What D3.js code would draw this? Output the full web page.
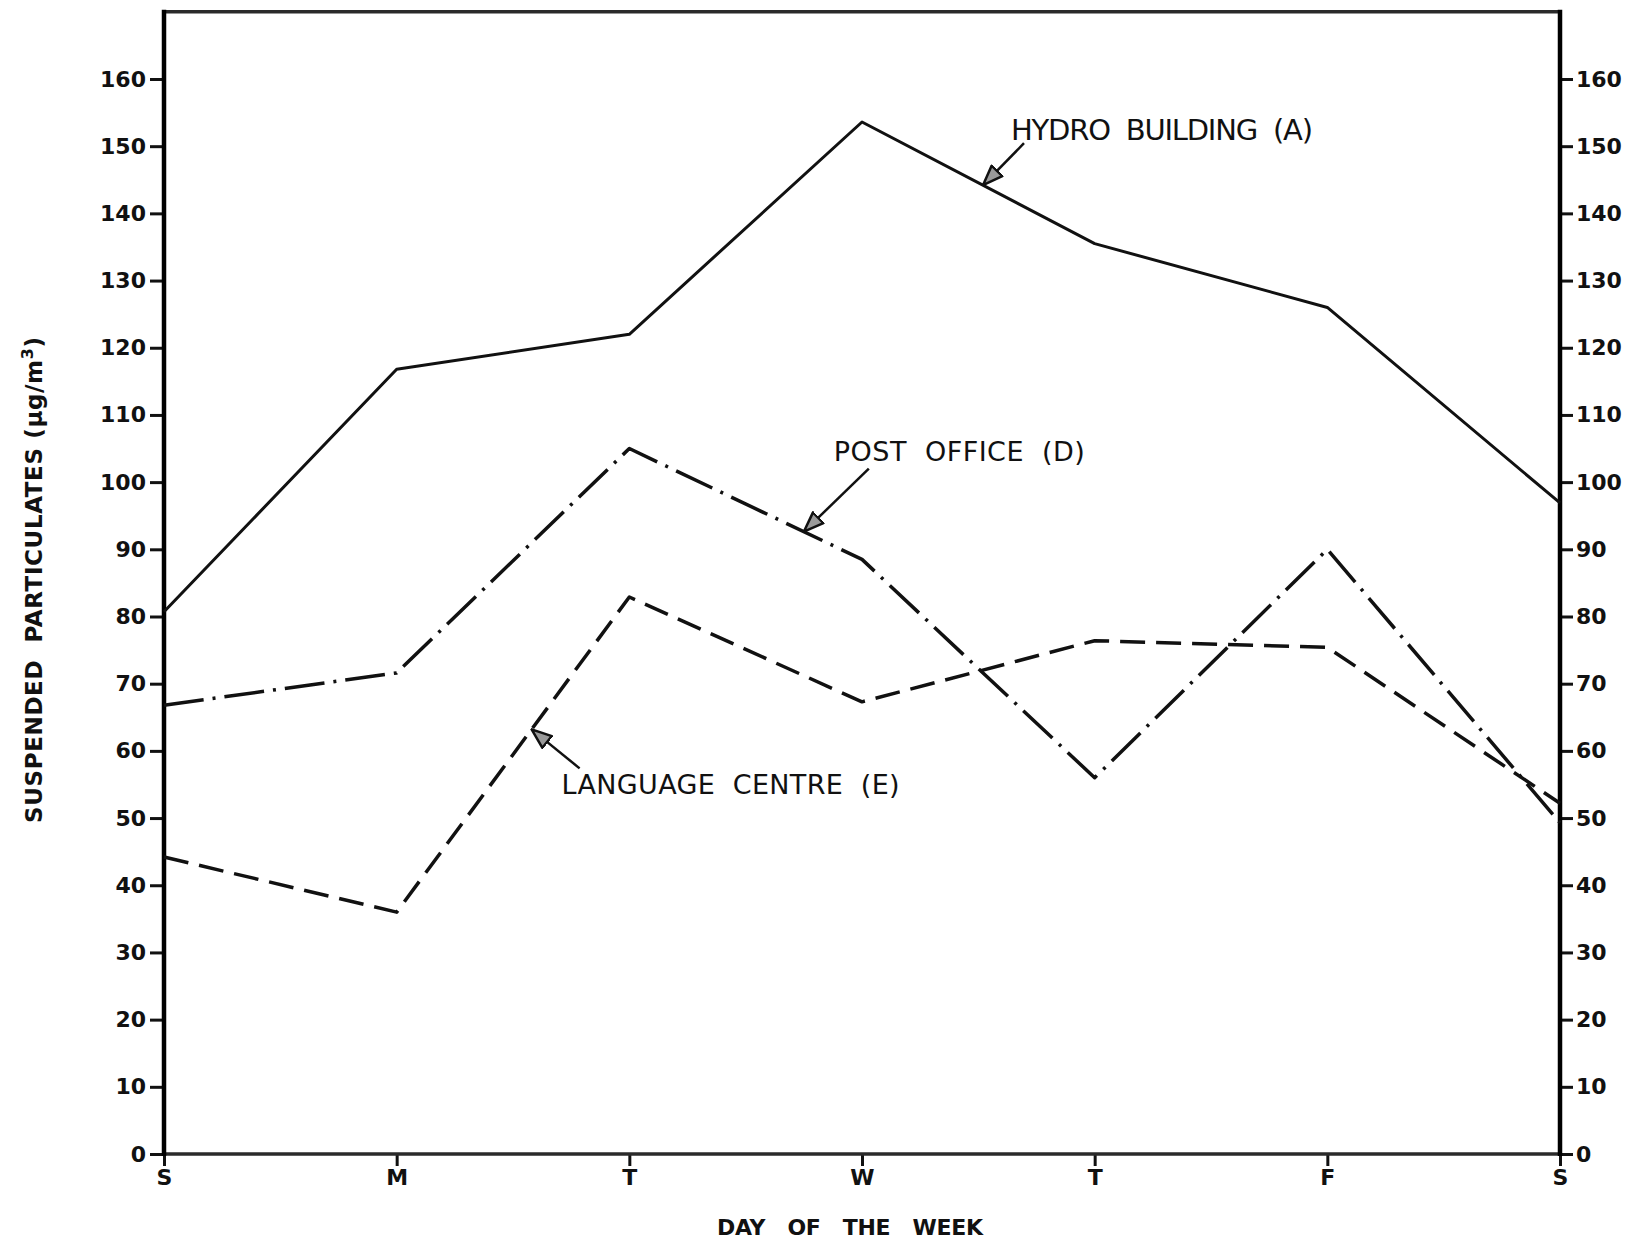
<!DOCTYPE html>
<html>
<head>
<meta charset="utf-8">
<script src="https://cdn.jsdelivr.net/npm/d3@7/dist/d3.min.js"></script>
<style>
  html, body { margin: 0; padding: 0; background: #fff; }
  svg text { font-family: "DejaVu Sans", "Liberation Sans", sans-serif; fill: #111; }
  .tick text { font-weight: bold; }
</style>
</head>
<body>
<svg id="chart" width="1628" height="1242"></svg>
<script>
// Days of the week (Sunday to Saturday)
const days = ["S", "M", "T", "W", "T", "F", "S"];

// Suspended particulates, µg/m³, per station
const hydroBuilding  = [80.7, 116.8, 122.0, 153.6, 135.5, 126.0, 96.9];
const postOffice     = [66.8, 71.6, 105.0, 88.5, 56.0, 90.0, 49.3];
const languageCentre = [44.2, 36.0, 82.9, 67.3, 76.4, 75.4, 52.2];

const yTickValues = [0, 10, 20, 30, 40, 50, 60, 70, 80, 90, 100, 110, 120, 130, 140, 150, 160];

const seriesLabels = ["HYDRO  BUILDING  (A)", "POST  OFFICE  (D)", "LANGUAGE  CENTRE  (E)"];

const svg = d3.select("#chart");
const plotLeft = 164, plotRight = 1560, plotBottom = 1154;
const unit = (1154 - 79) / 160;
const yMax = 170;

const x = d3.scaleLinear().domain([0, days.length - 1]).range([plotLeft, plotRight]);
const y = d3.scaleLinear().domain([0, yMax]).range([plotBottom, plotBottom - yMax * unit]);
const plotTop = y(yMax);

// Axes with outward ticks
const axisL = svg.append("g").attr("transform", `translate(${plotLeft},0)`)
  .call(d3.axisLeft(y).tickValues(yTickValues).tickSize(14).tickPadding(4).tickFormat(d3.format("d")));
const axisR = svg.append("g").attr("transform", `translate(${plotRight},0)`)
  .call(d3.axisRight(y).tickValues(yTickValues).tickSize(13).tickPadding(3).tickFormat(d3.format("d")));
const axisB = svg.append("g").attr("transform", `translate(0,${plotBottom})`)
  .call(d3.axisBottom(x).tickValues(d3.range(days.length)).tickSize(12).tickPadding(3).tickFormat(i => days[i]));

[axisL, axisR, axisB].forEach(g => {
  g.select(".domain").remove();
  g.selectAll(".tick line").attr("stroke", "#111").attr("stroke-width", 3);
  g.selectAll(".tick text").attr("font-size", 22).attr("fill", "#111");
});

// Frame
svg.append("line").attr("x1", plotLeft).attr("x2", plotRight).attr("y1", plotTop).attr("y2", plotTop)
  .attr("stroke", "#2a2a2a").attr("stroke-width", 3.5);
svg.append("line").attr("x1", plotLeft).attr("x2", plotRight).attr("y1", plotBottom).attr("y2", plotBottom)
  .attr("stroke", "#2a2a2a").attr("stroke-width", 3.5);
svg.append("line").attr("x1", plotLeft).attr("x2", plotLeft).attr("y1", plotTop - 2).attr("y2", plotBottom + 2)
  .attr("stroke", "#000").attr("stroke-width", 4.5);
svg.append("line").attr("x1", plotRight).attr("x2", plotRight).attr("y1", plotTop - 2).attr("y2", plotBottom + 2)
  .attr("stroke", "#000").attr("stroke-width", 4.5);

// Series lines
const series = [
  { values: hydroBuilding,  dash: null,        width: 3 },
  { values: postOffice,     dash: "40,9,3,9",  width: 3.5 },
  { values: languageCentre, dash: "25,11",     width: 3.5 }
];
const line = d3.line().x((d, i) => x(i)).y(d => y(d));
series.forEach(s => {
  svg.append("path").datum(s.values).attr("d", line)
    .attr("fill", "none").attr("stroke", "#111").attr("stroke-width", s.width)
    .attr("stroke-linejoin", "round").attr("stroke-linecap", "butt")
    .attr("stroke-dasharray", s.dash);
});

// Arrowhead marker: outlined triangle with a light speckled fill
svg.append("defs").append("marker")
  .attr("id", "head").attr("markerUnits", "userSpaceOnUse")
  .attr("viewBox", "0 0 22 18").attr("refX", 21).attr("refY", 9)
  .attr("markerWidth", 22).attr("markerHeight", 18).attr("orient", "auto")
  .append("path").attr("d", "M1,1.5 L21,9 L1,16.5 Z")
  .attr("fill", "#9a9a9a").attr("stroke", "#111").attr("stroke-width", 2.5).attr("stroke-linejoin", "round");

// Labels with arrows pointing at a spot on each station's line
const notes = [
  { label: seriesLabels[0], values: hydroBuilding,  seg: 3, t: 0.52, tail: [41, -42], text: [-13, -3], len: 302, size: 29 },
  { label: seriesLabels[1], values: postOffice,     seg: 2, t: 0.75, tail: [65, -63], text: [-35, -8], len: 251, size: 27 },
  { label: seriesLabels[2], values: languageCentre, seg: 1, t: 0.58, tail: [48, 39],  text: [-18, 26], len: 338, size: 27 }
];
notes.forEach(n => {
  const i = n.seg;
  const tx = x(i) + n.t * (x(i + 1) - x(i));
  const ty = y(n.values[i]) + n.t * (y(n.values[i + 1]) - y(n.values[i]));
  const ax = tx + n.tail[0], ay = ty + n.tail[1];
  svg.append("line").attr("x1", ax).attr("y1", ay).attr("x2", tx).attr("y2", ty)
    .attr("stroke", "#111").attr("stroke-width", 2.5).attr("marker-end", "url(#head)");
  svg.append("text").attr("x", ax + n.text[0]).attr("y", ay + n.text[1])
    .attr("font-size", n.size).attr("textLength", n.len).attr("lengthAdjust", "spacing")
    .attr("xml:space", "preserve").text(n.label);
});

// Axis titles
svg.append("text").attr("x", 850).attr("y", 1235).attr("text-anchor", "middle")
  .attr("font-size", 22).attr("font-weight", "bold").attr("xml:space", "preserve")
  .attr("textLength", 266).attr("lengthAdjust", "spacing")
  .text("DAY   OF   THE   WEEK");

const yTitle = svg.append("text")
  .attr("transform", "translate(42,580) rotate(-90)").attr("xml:space", "preserve")
  .attr("text-anchor", "middle").attr("font-size", 23).attr("font-weight", "bold")
  .attr("textLength", 486).attr("lengthAdjust", "spacing");
yTitle.append("tspan").text("SUSPENDED  PARTICULATES (μg/m");
yTitle.append("tspan").attr("dy", -9).attr("font-size", 16).text("3");
yTitle.append("tspan").attr("dy", 9).text(")");
</script>
</body>
</html>
